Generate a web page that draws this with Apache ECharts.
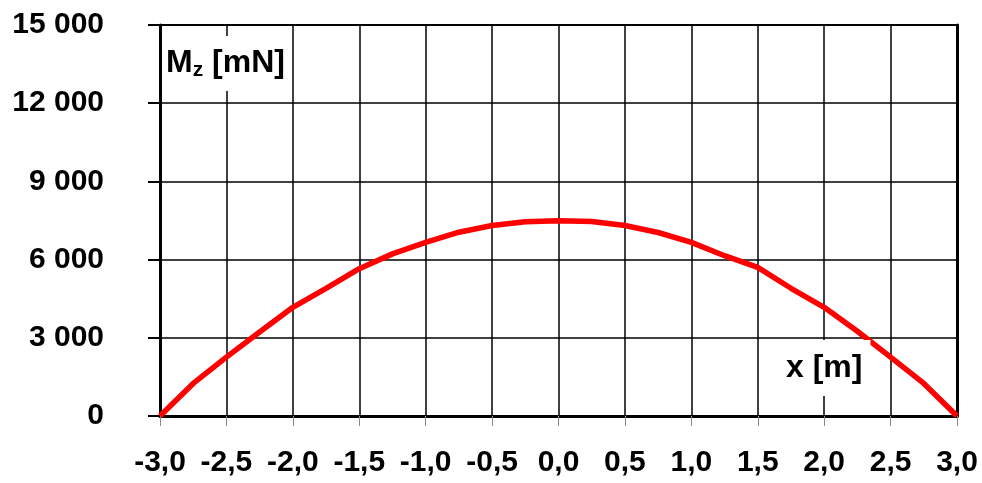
<!DOCTYPE html>
<html>
<head>
<meta charset="utf-8">
<script src="https://cdn.jsdelivr.net/npm/echarts@6/dist/echarts.min.js"></script>
<style>
  html, body { margin: 0; padding: 0; background: #fff; }
  #chart { width: 982px; height: 483px; }
</style>
</head>
<body>
<div id="chart"></div>
<script>
// values
const xValues = [-3.0, -2.75, -2.5, -2.25, -2.0, -1.75, -1.5, -1.25, -1.0, -0.75, -0.5, -0.25, 0,
  0.25, 0.5, 0.75, 1.0, 1.25, 1.5, 1.75, 2.0, 2.25, 2.5, 2.75, 3.0]
const mzValues = [0, 1250, 2260, 3220, 4170, 4900, 5650, 6220, 6660, 7050, 7310, 7450, 7490,
  7460, 7310, 7040, 6660, 6150, 5700, 4900, 4170, 3250, 2260, 1250, 0]

const FONT = '"Liberation Sans", Arial, sans-serif'

const chart = echarts.init(document.getElementById('chart'))

chart.setOption({
  animation: false,
  grid: {
    left: 160, right: 25, top: 25, bottom: 67,
    show: true, borderColor: '#000', borderWidth: 2,
  },
  xAxis: {
    type: 'value',
    min: -3, max: 3, interval: 0.5,
    axisLine: { onZero: false, lineStyle: { color: '#000', width: 3 } },
    axisTick: { show: true, inside: false, length: 10, lineStyle: { color: '#888', width: 1 } },
    axisLabel: {
      margin: 32,
      color: '#000', fontFamily: FONT, fontWeight: 'bold', fontSize: 30,
      formatter: v => v.toFixed(1).replace('.', ','),
    },
    splitLine: { show: true, lineStyle: { color: '#000', width: 1.5 } },
  },
  yAxis: [
    {
      type: 'value',
      min: 0, max: 15000, interval: 3000,
      axisLine: { show: true, onZero: false, lineStyle: { color: '#000', width: 3 } },
      axisTick: { show: true, length: 12, lineStyle: { color: '#000', width: 2 } },
      axisLabel: {
        margin: 56,
        color: '#000', fontFamily: FONT, fontWeight: 'bold', fontSize: 30,
        formatter: v => String(v).replace(/\B(?=(\d{3})+(?!\d))/g, ' '),
      },
      splitLine: { show: true, lineStyle: { color: '#000', width: 1.5 } },
    },
    {
      type: 'value', position: 'right',
      min: 0, max: 15000, interval: 3000,
      axisLine: { show: true, onZero: false, lineStyle: { color: '#000', width: 3 } },
      axisTick: { show: false },
      axisLabel: { show: false },
      splitLine: { show: false },
    },
  ],
  graphic: [
    {
      type: 'text',
      left: 162, top: 36,
      z: 100,
      style: {
        text: '{m|M}{s|z}{m| [mN]}',
        backgroundColor: '#fff',
        padding: [10, 6, 10, 4],
        rich: {
          m: { font: `bold 32px ${FONT}`, fill: '#000' },
          s: { font: `bold 21px ${FONT}`, fill: '#000', verticalAlign: 'bottom', padding: [14, 0, 0, 0] },
        },
      },
    },
    {
      type: 'text',
      left: 778, top: 340,
      z: 100,
      style: {
        text: 'x [m]',
        font: `bold 32px ${FONT}`,
        fill: '#000',
        backgroundColor: '#fff',
        padding: [12, 8, 12, 8],
      },
    },
  ],
  series: [
    {
      type: 'line',
      data: xValues.map((x, i) => [x, mzValues[i]]),
      showSymbol: false,
      lineStyle: { color: '#ff0000', width: 5.5 },
      z: 5,
    },
  ],
})
</script>
</body>
</html>
